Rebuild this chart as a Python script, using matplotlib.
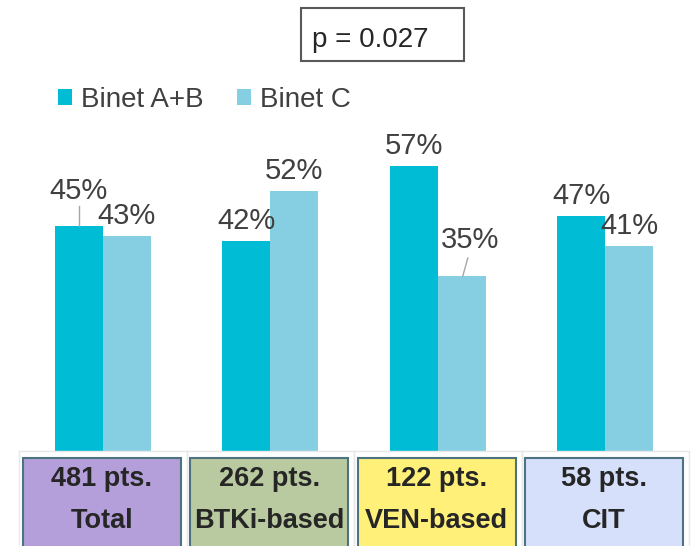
import matplotlib.pyplot as plt
from matplotlib.patches import Rectangle
import numpy as np

plt.rcParams['font.family'] = ['Liberation Sans', 'DejaVu Sans']

groups = ['Total', 'BTKi-based', 'VEN-based', 'CIT']
patients = ['481 pts.', '262 pts.', '122 pts.', '58 pts.']
binet_ab = [45, 42, 57, 47]
binet_c = [43, 52, 35, 41]
p_text = 'p = 0.027'

c_ab = '#00bcd5'
c_c = '#86cfe2'
box_colors = ['#b49fda', '#bacaa0', '#fff07a', '#d7e0fb']
txt = '#404040'

fig = plt.figure(figsize=(6.99, 5.46), dpi=100)
ax = fig.add_axes([19 / 699, 95 / 546, 670 / 699, 320 / 546])

x = np.arange(len(groups))
w = 0.287
b1 = ax.bar(x - w / 2, binet_ab, w, color=c_ab, label='Binet A+B')
b2 = ax.bar(x + w / 2, binet_c, w, color=c_c, label='Binet C')

ax.set_xlim(-0.5, 3.5)
ax.set_ylim(0, 64)
ax.axis('off')

# value labels, two of them pulled up with a leader line
for i in range(len(groups)):
    for bars, vals, in ((b1, binet_ab), (b2, binet_c)):
        v = vals[i]
        xc = bars[i].get_x() + w / 2
        dx, dy = 0, 2.4
        if bars is b1 and i == 0:
            dy = 5.4
            ax.plot([xc, xc], [v, v + 4], color='#a6a6a6', lw=1)
        if bars is b2 and i == 2:
            dx, dy = 0.048, 5.6
            ax.plot([xc + 0.006, xc + 0.036], [v, v + 3.6], color='#a6a6a6', lw=1)
        ax.text(xc + dx, v + dy, f'{v}%', ha='center', va='baseline',
                fontsize=21, color=txt)

# category table under the bars
for i in range(len(groups)):
    for xe in (i - 0.5, i + 0.5):
        ax.plot([xe, xe], [0, -25], color='#e8e8e8', lw=1, clip_on=False)
    ax.add_patch(Rectangle((i - 0.478, -25), 0.943, 23.6, facecolor=box_colors[i],
                           edgecolor='#4d7380', lw=1.5, clip_on=False))
    ax.text(i - 0.007, -7.0, patients[i], ha='center', va='baseline',
            fontsize=19.5, fontweight='bold', color='#262626', clip_on=False)
    ax.text(i - 0.007, -15.4, groups[i], ha='center', va='baseline',
            fontsize=19.5, fontweight='bold', color='#262626', clip_on=False)
ax.plot([-0.5, 3.5], [0, 0], color='#e8e8e8', lw=1, clip_on=False)

leg = fig.legend(handles=[b1, b2], loc='center left',
                 bbox_to_anchor=(58 / 699, 1 - 100 / 546), ncol=2, frameon=False,
                 fontsize=20, handlelength=0.5, handleheight=0.5,
                 handletextpad=0.32, columnspacing=1.2, borderpad=0,
                 borderaxespad=0)
for t in leg.get_texts():
    t.set_color(txt)

fig.add_artist(Rectangle((301 / 699, 1 - 61 / 546), 163 / 699, 53 / 546,
                         transform=fig.transFigure, facecolor='white',
                         edgecolor='#595959', lw=1.5))
fig.text(312 / 699, 1 - 47 / 546, p_text, ha='left', va='baseline',
         fontsize=20, color='#262626')

fig.savefig('out.png', dpi=100)
